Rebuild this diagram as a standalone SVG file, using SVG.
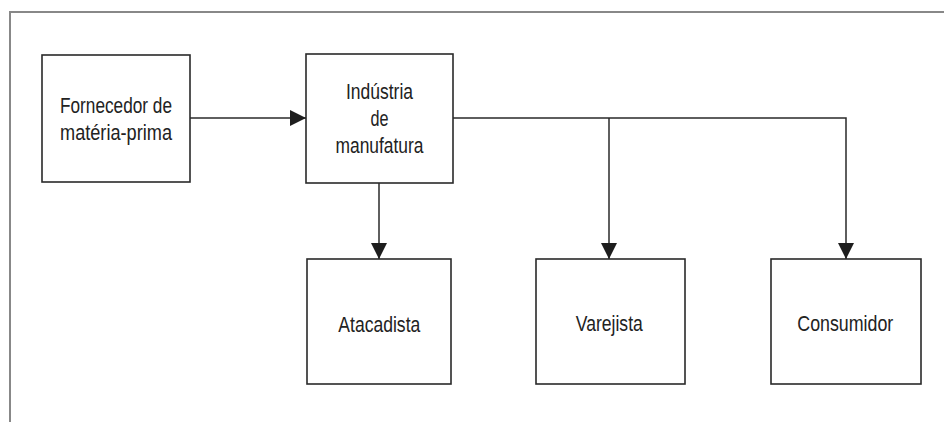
<svg xmlns="http://www.w3.org/2000/svg" width="944" height="422" viewBox="0 0 944 422">
  <style>
    .box { fill: #ffffff; stroke: #2a2a2a; stroke-width: 1.6; }
    .lbl { font-family: "Liberation Sans", Arial, sans-serif; font-size: 22px; fill: #222222; text-anchor: middle; }
    .conn { fill: none; stroke: #2a2a2a; stroke-width: 1.5; }
    .frame { fill: none; stroke: #888888; stroke-width: 2; }
  </style>
  <defs>
    <marker id="arrow" markerUnits="userSpaceOnUse" markerWidth="16" markerHeight="16" refX="16" refY="8" orient="auto">
      <path d="M0,0 L16,8 L0,16 Z" fill="#1e1e1e"/>
    </marker>
  </defs>
  <rect width="944" height="422" fill="#ffffff"/>
  <path class="frame" d="M10,422 V12 H944"/>

  <g id="connectors">
    <line class="conn" x1="190" y1="118" x2="306" y2="118" marker-end="url(#arrow)"/>
    <line class="conn" x1="379" y1="183" x2="379" y2="259" marker-end="url(#arrow)"/>
    <path class="conn" d="M453,118 H846 V259" marker-end="url(#arrow)"/>
    <line class="conn" x1="609" y1="118" x2="609" y2="259" marker-end="url(#arrow)"/>
  </g>

  <g id="fornecedor">
    <rect class="box" x="42" y="55" width="148" height="127"/>
    <text class="lbl" x="116" y="112.5" textLength="112" lengthAdjust="spacingAndGlyphs">Fornecedor de</text>
    <text class="lbl" x="116" y="139.5" textLength="112" lengthAdjust="spacingAndGlyphs">matéria-prima</text>
  </g>

  <g id="industria">
    <rect class="box" x="306" y="54" width="147" height="129"/>
    <text class="lbl" x="379.5" y="99" textLength="67" lengthAdjust="spacingAndGlyphs">Indústria</text>
    <text class="lbl" x="379.5" y="125.8" textLength="18" lengthAdjust="spacingAndGlyphs">de</text>
    <text class="lbl" x="379.5" y="152.7" textLength="88" lengthAdjust="spacingAndGlyphs">manufatura</text>
  </g>

  <g id="atacadista">
    <rect class="box" x="307" y="259" width="144" height="125"/>
    <text class="lbl" x="379.3" y="331.5" textLength="82" lengthAdjust="spacingAndGlyphs">Atacadista</text>
  </g>

  <g id="varejista">
    <rect class="box" x="536" y="259" width="149" height="125"/>
    <text class="lbl" x="609.3" y="330.5" textLength="67" lengthAdjust="spacingAndGlyphs">Varejista</text>
  </g>

  <g id="consumidor">
    <rect class="box" x="771" y="259" width="150" height="125"/>
    <text class="lbl" x="845.3" y="330.5" textLength="96" lengthAdjust="spacingAndGlyphs">Consumidor</text>
  </g>
</svg>
